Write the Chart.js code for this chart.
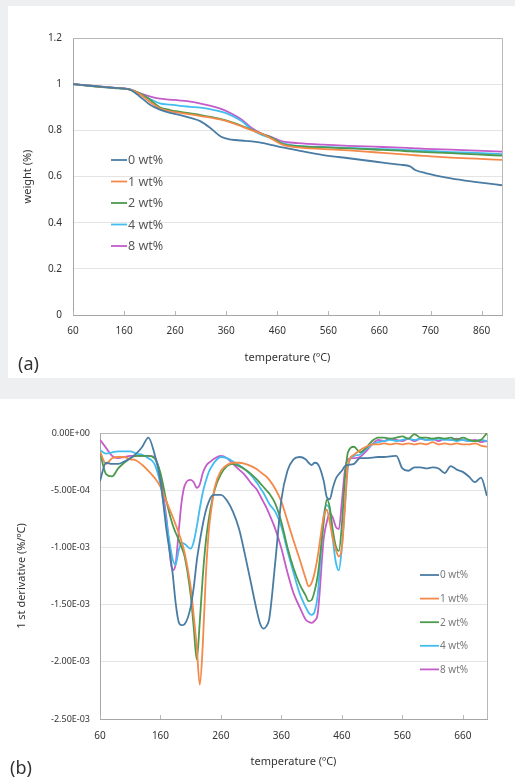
<!DOCTYPE html>
<html>
<head>
<meta charset="utf-8">
<script src="https://cdn.jsdelivr.net/npm/chart.js@4.4.0/dist/chart.umd.min.js"></script>
<style>
  body { margin: 0; width: 515px; height: 781px; background: #edeff1; position: relative; overflow: hidden; font-family: "Noto Sans", sans-serif; }
  .panel { position: absolute; background: #fff; }
  #panelA { left: 8px; top: 6px; width: 507px; height: 372px; }
  #panelB { left: 0; top: 399px; width: 515px; height: 382px; }
  .tag { position: absolute; font-size: 18px; color: #333; line-height: 22px; }
</style>
</head>
<body>
<div class="panel" id="panelA">
  <canvas id="tgaChart" width="507" height="372"></canvas>
  <div class="tag" style="left:10px; top:346px;">(a)</div>
</div>
<div class="panel" id="panelB">
  <canvas id="dtgChart" width="515" height="382"></canvas>
  <div class="tag" style="left:10px; top:357px;">(b)</div>
</div>
<script>
// series names and colours
const seriesNames = ['0 wt%', '1 wt%', '2 wt%', '4 wt%', '8 wt%'];
const seriesColors = ['#4a7ca3', '#f4894a', '#4c9a4c', '#43bdf0', '#c45cc9'];

// (a) weight vs temperature
const tempsA = [60, 100, 140, 170, 190, 210, 230, 250, 270, 290, 310, 330, 350, 370, 390,
                410, 430, 450, 470, 500, 550, 600, 650, 700, 720, 730, 750, 800, 850, 900];
const weight0 = [1.0, .992, .984, .977, .948, .912, .89, .876, .866, .854, .839, .808, .772, .76, .756,
                 .752, .746, .736, .726, .713, .693, .679, .665, .651, .644, .628, .615, .592, .576, .562];
const weight1 = [1.0, .992, .984, .977, .958, .924, .895, .882, .876, .869, .862, .855, .846, .833, .817,
                 .8, .785, .762, .738, .726, .719, .713, .705, .697, .694, .692, .689, .682, .677, .672];
const weight2 = [1.0, .99, .983, .977, .962, .934, .9, .888, .88, .873, .866, .858, .849, .836, .82,
                 .802, .785, .767, .742, .731, .726, .722, .717, .712, .709, .708, .706, .701, .696, .69];
const weight4 = [1.0, .992, .984, .977, .958, .937, .917, .911, .906, .902, .898, .891, .881, .865, .84,
                 .804, .78, .765, .745, .733, .728, .724, .72, .716, .714, .713, .711, .706, .702, .697];
const weight8 = [1.0, .993, .985, .978, .961, .947, .937, .933, .929, .924, .916, .906, .893, .873, .847,
                 .81, .785, .77, .752, .745, .738, .733, .729, .725, .723, .722, .72, .716, .712, .708];
const xTicksA = [60, 160, 260, 360, 460, 560, 660, 760, 860];
const yTicksA = [0, 0.2, 0.4, 0.6, 0.8, 1, 1.2];
const yLabelsA = ['0', '0.2', '0.4', '0.6', '0.8', '1', '1.2'];

// (b) first derivative vs temperature
const tempsB = [60, 70, 80, 90, 100, 110, 120, 130, 140, 150, 160, 170, 180,
                185, 190, 195, 200,
                210, 215, 220, 225, 230, 235, 240, 245, 250,
                260, 270, 280, 290, 300, 310, 320,
                325, 330, 335, 340,
                350, 360, 370, 380, 390, 400,
                405, 410, 415, 420,
                430, 435, 440, 445, 450, 455, 460, 465, 470,
                480, 490, 500, 510, 520, 530, 540, 550, 560, 570, 580, 590, 600, 610, 620, 630, 640, 650, 660, 670, 680, 690, 700];
const deriv0 = [-.42e-3, -.26e-3, -.27e-3, -.27e-3, -.25e-3, -.22e-3, -.18e-3, -.12e-3, -.04e-3, -.18e-3, -.42e-3, -.85e-3, -1.22e-3,
                -1.48e-3, -1.65e-3, -1.68e-3, -1.67e-3,
                -1.52e-3, -1.35e-3, -1.12e-3, -.95e-3, -.8e-3, -.68e-3, -.6e-3, -.55e-3, -.54e-3,
                -.54e-3, -.59e-3, -.69e-3, -.84e-3, -1.07e-3, -1.32e-3, -1.57e-3,
                -1.67e-3, -1.71e-3, -1.69e-3, -1.62e-3,
                -1.12e-3, -.58e-3, -.33e-3, -.23e-3, -.21e-3, -.23e-3,
                -.26e-3, -.28e-3, -.26e-3, -.27e-3,
                -.42e-3, -.56e-3, -.58e-3, -.48e-3, -.4e-3, -.36e-3, -.33e-3, -.29e-3, -.28e-3,
                -.27e-3, -.22e-3, -.22e-3, -.215e-3, -.21e-3, -.21e-3, -.205e-3, -.2e-3, -.31e-3, -.33e-3, -.3e-3, -.3e-3,
                -.31e-3, -.3e-3, -.31e-3, -.35e-3, -.29e-3, -.32e-3, -.34e-3, -.38e-3, -.43e-3, -.39e-3, -.55e-3];
const deriv1 = [-.16e-3, -.27e-3, -.22e-3, -.21e-3, -.21e-3, -.23e-3, -.24e-3, -.28e-3, -.33e-3, -.39e-3, -.47e-3, -.6e-3, -.73e-3,
                -.8e-3, -.87e-3, -.95e-3, -1.05e-3,
                -1.35e-3, -1.6e-3, -1.87e-3, -2.2e-3, -1.85e-3, -1.25e-3, -.85e-3, -.63e-3, -.47e-3,
                -.33e-3, -.28e-3, -.26e-3, -.26e-3, -.27e-3, -.29e-3, -.32e-3,
                -.34e-3, -.36e-3, -.38e-3, -.41e-3,
                -.49e-3, -.6e-3, -.77e-3, -.94e-3, -1.1e-3, -1.27e-3,
                -1.34e-3, -1.31e-3, -1.22e-3, -1.08e-3,
                -.73e-3, -.67e-3, -.78e-3, -.92e-3, -1.02e-3, -1.08e-3, -1.0e-3, -.65e-3, -.28e-3,
                -.19e-3, -.15e-3, -.12e-3, -.1e-3, -.1e-3, -.09e-3, -.1e-3, -.09e-3, -.1e-3, -.09e-3, -.1e-3, -.09e-3,
                -.1e-3, -.08e-3, -.1e-3, -.09e-3, -.1e-3, -.09e-3, -.1e-3, -.1e-3, -.09e-3, -.11e-3, -.12e-3];
const deriv2 = [-.17e-3, -.36e-3, -.38e-3, -.31e-3, -.26e-3, -.22e-3, -.2e-3, -.2e-3, -.2e-3, -.22e-3, -.35e-3, -.6e-3, -.8e-3,
                -.87e-3, -.93e-3, -1.0e-3, -1.08e-3,
                -1.42e-3, -1.7e-3, -1.98e-3, -1.65e-3, -1.25e-3, -.95e-3, -.75e-3, -.6e-3, -.49e-3,
                -.36e-3, -.29e-3, -.27e-3, -.29e-3, -.32e-3, -.36e-3, -.41e-3,
                -.44e-3, -.47e-3, -.5e-3, -.53e-3,
                -.62e-3, -.78e-3, -1.0e-3, -1.18e-3, -1.32e-3, -1.42e-3,
                -1.47e-3, -1.46e-3, -1.38e-3, -1.25e-3,
                -.78e-3, -.58e-3, -.65e-3, -.85e-3, -.99e-3, -1.03e-3, -.8e-3, -.4e-3, -.17e-3,
                -.12e-3, -.17e-3, -.13e-3, -.07e-3, -.04e-3, -.04e-3, -.05e-3, -.04e-3, -.03e-3, -.05e-3, -.01e-3, -.04e-3,
                -.04e-3, -.05e-3, -.04e-3, -.05e-3, -.04e-3, -.06e-3, -.04e-3, -.06e-3, -.07e-3, -.06e-3, 0];
const deriv4 = [-.15e-3, -.18e-3, -.17e-3, -.16e-3, -.16e-3, -.16e-3, -.18e-3, -.19e-3, -.22e-3, -.27e-3, -.45e-3, -.78e-3, -1.1e-3,
                -1.15e-3, -1.03e-3, -.96e-3, -.97e-3,
                -1.01e-3, -.95e-3, -.82e-3, -.66e-3, -.52e-3, -.42e-3, -.34e-3, -.29e-3, -.25e-3,
                -.21e-3, -.22e-3, -.25e-3, -.28e-3, -.32e-3, -.37e-3, -.44e-3,
                -.48e-3, -.52e-3, -.57e-3, -.62e-3,
                -.69e-3, -.82e-3, -1.03e-3, -1.22e-3, -1.4e-3, -1.52e-3,
                -1.57e-3, -1.59e-3, -1.56e-3, -1.42e-3,
                -.72e-3, -.63e-3, -.68e-3, -.93e-3, -1.13e-3, -1.2e-3, -1.0e-3, -.65e-3, -.3e-3,
                -.2e-3, -.19e-3, -.14e-3, -.1e-3, -.08e-3, -.07e-3, -.06e-3, -.07e-3, -.06e-3, -.05e-3, -.06e-3, -.05e-3,
                -.06e-3, -.06e-3, -.05e-3, -.06e-3, -.06e-3, -.07e-3, -.06e-3, -.07e-3, -.07e-3, -.06e-3, -.07e-3];
const deriv8 = [-.06e-3, -.13e-3, -.2e-3, -.22e-3, -.21e-3, -.2e-3, -.2e-3, -.2e-3, -.2e-3, -.21e-3, -.38e-3, -.75e-3, -1.2e-3,
                -1.15e-3, -.87e-3, -.6e-3, -.46e-3,
                -.41e-3, -.43e-3, -.48e-3, -.45e-3, -.35e-3, -.29e-3, -.26e-3, -.24e-3, -.22e-3,
                -.2e-3, -.22e-3, -.27e-3, -.32e-3, -.37e-3, -.44e-3, -.5e-3,
                -.55e-3, -.6e-3, -.65e-3, -.71e-3,
                -.84e-3, -1.01e-3, -1.22e-3, -1.4e-3, -1.52e-3, -1.63e-3,
                -1.65e-3, -1.66e-3, -1.64e-3, -1.58e-3,
                -.92e-3, -.78e-3, -.7e-3, -.74e-3, -.82e-3, -.84e-3, -.6e-3, -.33e-3, -.23e-3,
                -.22e-3, -.21e-3, -.16e-3, -.1e-3, -.06e-3, -.07e-3, -.05e-3, -.06e-3, -.07e-3, -.05e-3, -.07e-3, -.05e-3,
                -.06e-3, -.05e-3, -.07e-3, -.05e-3, -.06e-3, -.05e-3, -.06e-3, -.07e-3, -.06e-3, -.08e-3, -.07e-3];
const xTicksB = [60, 160, 260, 360, 460, 560, 660];
const yTicksB = [-2.5e-3, -2e-3, -1.5e-3, -1e-3, -5e-4, 0];
const yLabelsB = ['-2.50E-03', '-2.00E-03', '-1.50E-03', '-1.00E-03', '-5.00E-04', '0.00E+00'];

// plot frame (top/right lines) and small inward x tick marks, Excel style
const framePlugin = {
    id: 'frame',
    beforeDatasetsDraw(chart, args, opts) {
        const { ctx, chartArea: a } = chart;
        const xs = chart.scales.x;
        ctx.save();
        ctx.strokeStyle = opts.color;
        ctx.lineWidth = 1;
        ctx.beginPath();
        ctx.moveTo(a.left, a.top + 0.5);
        ctx.lineTo(a.right + 0.5, a.top + 0.5);
        ctx.lineTo(a.right + 0.5, a.bottom);
        xs.ticks.forEach(t => {
            const px = Math.round(xs.getPixelForValue(t.value)) + 0.5;
            ctx.moveTo(px, a.bottom);
            ctx.lineTo(px, a.bottom - 4);
        });
        ctx.stroke();
        ctx.restore();
    }
};

// legend drawn inside the plot at a fixed spot
const boxLegend = {
    id: 'boxLegend',
    afterDraw(chart, args, opts) {
        const ctx = chart.ctx;
        ctx.save();
        ctx.font = opts.font;
        ctx.textBaseline = 'middle';
        chart.data.datasets.forEach((ds, i) => {
            const y = opts.y + i * opts.gap;
            ctx.strokeStyle = ds.borderColor;
            ctx.lineWidth = 1.8;
            ctx.beginPath();
            ctx.moveTo(opts.x, y);
            ctx.lineTo(opts.x + opts.lineLen, y);
            ctx.stroke();
            ctx.fillStyle = opts.color;
            ctx.fillText(ds.label, opts.x + opts.lineLen + 1, y + 0.5);
        });
        ctx.restore();
    }
};

function makeDatasets(seriesList) {
    return seriesList.map((values, i) => ({
        label: seriesNames[i],
        data: values,
        borderColor: seriesColors[i],
        backgroundColor: seriesColors[i],
        borderWidth: 1.8,
        pointRadius: 0,
        fill: false,
        cubicInterpolationMode: 'monotone'
    }));
}

function makeChart(canvasId, cfg) {
    return new Chart(document.getElementById(canvasId), {
        type: 'line',
        data: { labels: cfg.temps, datasets: makeDatasets(cfg.series) },
        options: {
            responsive: false,
            animation: false,
            layout: { padding: cfg.padding },
            plugins: {
                legend: { display: false },
                tooltip: { enabled: false },
                frame: { color: '#b8b8b8' },
                boxLegend: cfg.legend
            },
            scales: {
                x: {
                    type: 'linear',
                    min: cfg.xMin,
                    max: cfg.xMax,
                    afterBuildTicks: s => { s.ticks = cfg.xTicks.map(v => ({ value: v })); },
                    afterFit: s => { s.height = cfg.xHeight; },
                    grid: { display: false, drawTicks: false },
                    border: { color: '#a6a6a6' },
                    ticks: {
                        padding: cfg.xTickPad,
                        color: '#333',
                        font: { family: 'Noto Sans', size: 10 },
                        maxRotation: 0,
                        autoSkip: false,
                        callback: (v, i) => String(cfg.xTicks[i])
                    },
                    title: {
                        display: true,
                        text: 'temperature (ºC)',
                        color: '#333',
                        font: { family: 'Noto Sans', size: 11 },
                        padding: { top: 0, bottom: cfg.xTitlePad }
                    }
                },
                y: {
                    min: cfg.yMin,
                    max: cfg.yMax,
                    afterBuildTicks: s => { s.ticks = cfg.yTicks.map(v => ({ value: v })); },
                    afterFit: s => { s.width = cfg.yWidth; },
                    grid: {
                        color: c => (c.tick && c.tick.value !== cfg.yMin && c.tick.value !== cfg.yMax) ? '#e4e4e4' : 'rgba(0,0,0,0)',
                        drawTicks: false
                    },
                    border: { color: '#a6a6a6' },
                    ticks: {
                        padding: cfg.yTickPad,
                        color: '#333',
                        font: { family: 'Noto Sans', size: cfg.yTickSize },
                        autoSkip: false,
                        callback: (v, i) => cfg.yLabels[i]
                    },
                    title: {
                        display: true,
                        text: cfg.yTitle,
                        color: '#333',
                        font: { family: 'Noto Sans', size: 11 },
                        padding: { top: cfg.yTitlePad, bottom: 0 }
                    }
                }
            }
        },
        plugins: [framePlugin, boxLegend]
    });
}

makeChart('tgaChart', {
    temps: tempsA,
    series: [weight0, weight1, weight2, weight4, weight8],
    xMin: 60, xMax: 900, xTicks: xTicksA,
    yMin: 0, yMax: 1.2, yTicks: yTicksA, yLabels: yLabelsA,
    yTitle: 'weight (%)',
    padding: { left: 0, right: 13, top: 32, bottom: 0 },
    xHeight: 63, yWidth: 65,
    xTickPad: 10, yTickPad: 11, yTickSize: 10,
    xTitlePad: 14, yTitlePad: 13,
    legend: { x: 103, y: 154, gap: 21.5, lineLen: 16, font: '12.5px "Noto Sans"', color: '#595959' }
});

makeChart('dtgChart', {
    temps: tempsB,
    series: [deriv0, deriv1, deriv2, deriv4, deriv8],
    xMin: 60, xMax: 700, xTicks: xTicksB,
    yMin: -2.5e-3, yMax: 0, yTicks: yTicksB, yLabels: yLabelsB,
    yTitle: '1 st derivative (%/ºC)',
    padding: { left: 0, right: 28, top: 34, bottom: 0 },
    xHeight: 62, yWidth: 100,
    xTickPad: 11, yTickPad: 10, yTickSize: 9,
    xTitlePad: 13, yTitlePad: 15,
    legend: { x: 420, y: 176, gap: 23.6, lineLen: 19, font: '10px "Noto Sans"', color: '#7a7a7a' }
});
</script>
</body>
</html>
